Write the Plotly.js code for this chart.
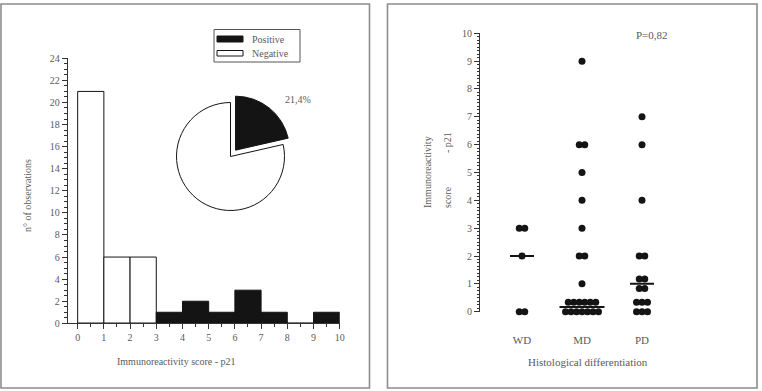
<!DOCTYPE html>
<html>
<head>
<meta charset="utf-8">
<script src="https://cdn.plot.ly/plotly-3.0.1.min.js"></script>
<style>
  html, body { margin: 0; padding: 0; background: #fff; }
  #chart { width: 762px; height: 391px; }
</style>
</head>
<body>
<div id="chart"></div>
<script>
// ---- Histogram of p21 immunoreactivity score (bins of width 1) ----
const binStarts      = [0, 1, 2, 3, 4, 5, 6, 7, 8, 9];
const negativeCounts = [21, 6, 6, 0, 0, 0, 0, 0, 0, 0];
const positiveCounts = [0, 0, 0, 1, 2, 1, 3, 1, 0, 1];
const pieLabels      = ['Positive', 'Negative'];
const histTicks      = [0, 1, 2, 3, 4, 5, 6, 7, 8, 9, 10];

// ---- p21 score by histological differentiation ----
const groups   = ['WD', 'MD', 'PD'];
const wdScores = [3, 3, 2, 0, 0];
const mdScores = [9, 6, 6, 5, 4, 3, 2, 2, 1, 0, 0, 0, 0, 0, 0, 0, 0, 0, 0, 0, 0, 0];
const pdScores = [7, 6, 4, 2, 2, 1, 1, 1, 1, 0, 0, 0, 0, 0, 0];
const pValueText = 'P=0,82';

// ---- page geometry helpers (figure has zero margins, so paper == page) ----
const W = 762, H = 391;
const px = x => x / W;
const py = y => 1 - y / H;

const FONT = 'Liberation Serif, DejaVu Serif, serif';
const TXT = '#5a5a5a';
const INK = '#141414';
const AXIS = '#333';

// Dot-plot axes
const x2Dom = [480, 700], x2Range = [0.3, 0.3 + (700 - 480) / 60];
const y2Dom = [311.7, 33.3], y2Range = [0, 10];
const pxPerX2 = (x2Dom[1] - x2Dom[0]) / (x2Range[1] - x2Range[0]);
const pxPerY2 = (y2Dom[0] - y2Dom[1]) / (y2Range[1] - y2Range[0]);

const dotSize = 7;          // marker diameter, px
const colGapPx = 5.5;       // horizontal spacing of tied dots, px
const rowGapPx = 9.5;       // vertical spacing of stacked rows, px
const rowCap = { WD: 4, MD: 7, PD: 3 };

// Arrange tied scores side by side (and in rows when crowded)
function swarm(scores, catX, cap) {
  const colU = colGapPx / pxPerX2, rowU = rowGapPx / pxPerY2;
  const counts = new Map();
  scores.forEach(v => counts.set(v, (counts.get(v) || 0) + 1));
  const xs = [], ys = [], clusters = new Map();
  for (const [v, n] of counts) {
    const nRows = Math.ceil(n / cap);
    const rows = [];
    let left = n;
    for (let r = 0; r < nRows; r++) { const m = Math.ceil(left / (nRows - r)); rows.push(m); left -= m; }
    const offs = rows.map((_, r) => (r - (nRows - 1) / 2) * rowU);
    const shift = Math.max(0, y2Range[0] - (v + offs[0]));
    rows.forEach((m, r) => {
      for (let i = 0; i < m; i++) {
        xs.push(catX + (i - (m - 1) / 2) * colU);
        ys.push(v + offs[r] + shift);
      }
    });
    clusters.set(v, { center: v + shift, half: ((Math.max(...rows) - 1) / 2) * colU });
  }
  return { xs, ys, clusters };
}

function median(arr) {
  const s = [...arr].sort((a, b) => a - b), n = s.length;
  return n % 2 ? s[(n - 1) / 2] : (s[n / 2 - 1] + s[n / 2]) / 2;
}

const traces = [];

// Histogram bars
const centers = binStarts.map(b => b + 0.5);
traces.push({
  type: 'bar', x: centers, y: negativeCounts, width: 1,
  marker: { color: '#ffffff', line: { color: INK, width: 1 } },
  xaxis: 'x', yaxis: 'y', showlegend: false, hoverinfo: 'skip'
});
traces.push({
  type: 'bar', x: centers, y: positiveCounts, width: 1,
  marker: { color: INK, line: { color: INK, width: 1 } },
  xaxis: 'x', yaxis: 'y', showlegend: false, hoverinfo: 'skip'
});

// Inset pie: share of positive cases
const posTotal = positiveCounts.reduce((a, b) => a + b, 0);
const negTotal = negativeCounts.reduce((a, b) => a + b, 0);
const pieR = 54, piePull = 0.15, pieC = [230.5, 156.5];
const pieHalf = pieR * (1 + piePull);
traces.push({
  type: 'pie', values: [posTotal, negTotal], labels: pieLabels,
  sort: false, direction: 'clockwise', rotation: 0, pull: [piePull, 0],
  marker: { colors: [INK, '#ffffff'], line: { color: INK, width: 1 } },
  textinfo: 'none', hoverinfo: 'skip', showlegend: false,
  domain: { x: [px(pieC[0] - pieHalf), px(pieC[0] + pieHalf)],
            y: [py(pieC[1] + pieHalf), py(pieC[1] - pieHalf)] }
});
const pctText = (100 * posTotal / (posTotal + negTotal)).toFixed(1).replace('.', ',') + '%';

// Dot plot with median lines
const groupScores = [wdScores, mdScores, pdScores];
groupScores.forEach((scores, gi) => {
  const catX = gi + 1;
  const sw = swarm(scores, catX, rowCap[groups[gi]]);
  traces.push({
    type: 'scatter', mode: 'markers', x: sw.xs, y: sw.ys,
    marker: { size: dotSize, color: INK, line: { width: 0 } },
    xaxis: 'x2', yaxis: 'y2', cliponaxis: false, showlegend: false, hoverinfo: 'skip'
  });
  const med = median(scores);
  const cl = sw.clusters.get(med);
  const yLine = cl ? cl.center : med;
  const halfU = Math.max((cl ? cl.half : 0) + (dotSize / 2 + 2.5) / pxPerX2, 12 / pxPerX2);
  traces.push({
    type: 'scatter', mode: 'lines', x: [catX - halfU, catX + halfU], y: [yLine, yLine],
    line: { color: INK, width: 2 },
    xaxis: 'x2', yaxis: 'y2', cliponaxis: false, showlegend: false, hoverinfo: 'skip'
  });
});

const tickFont = { family: FONT, size: 10, color: TXT };

const ann = (x, y, text, extra) => Object.assign({
  xref: 'paper', yref: 'paper', x: px(x), y: py(y), text: text, showarrow: false,
  xanchor: 'center', yanchor: 'middle',
  font: { family: FONT, size: 10, color: TXT }
}, extra || {});

const layout = {
  width: W, height: H,
  margin: { l: 0, r: 0, t: 0, b: 0 },
  paper_bgcolor: '#fff', plot_bgcolor: 'rgba(0,0,0,0)',
  barmode: 'overlay', bargap: 0,
  xaxis: {
    domain: [px(67.7), px(339.7)], range: [-0.38, 10], anchor: 'y',
    tickvals: histTicks, ticks: 'outside', ticklen: 5, tickcolor: AXIS, tickwidth: 1,
    minor: { dtick: 0.5, tick0: 0, ticks: 'outside', ticklen: 3, tickcolor: AXIS },
    showline: true, linecolor: AXIS, linewidth: 1,
    showgrid: false, zeroline: false, tickfont: tickFont, fixedrange: true
  },
  yaxis: {
    domain: [py(323.3), py(58.3)], range: [0, 24], anchor: 'x',
    dtick: 2, tick0: 0, ticks: 'outside', ticklen: 5, tickcolor: AXIS, tickwidth: 1,
    minor: { dtick: 0.5, tick0: 0, ticks: 'outside', ticklen: 3, tickcolor: AXIS },
    showline: true, linecolor: AXIS, linewidth: 1,
    showgrid: false, zeroline: false, tickfont: tickFont, fixedrange: true
  },
  xaxis2: {
    domain: [px(x2Dom[0]), px(x2Dom[1])], range: x2Range, anchor: 'y2',
    tickvals: [1, 2, 3], ticktext: groups, ticks: '', showline: false,
    ticklabelstandoff: 20,
    showgrid: false, zeroline: false, tickfont: { family: FONT, size: 11, color: TXT }, fixedrange: true
  },
  yaxis2: {
    domain: [py(y2Dom[0]), py(y2Dom[1])], range: y2Range, anchor: 'x2',
    dtick: 1, tick0: 0, ticks: 'outside', ticklen: 5, tickcolor: AXIS, tickwidth: 1,
    minor: { dtick: 0.125, tick0: 0, ticks: 'outside', ticklen: 2.5, tickcolor: AXIS },
    showline: true, linecolor: AXIS, linewidth: 1,
    showgrid: false, zeroline: false, tickfont: tickFont, fixedrange: true
  },
  shapes: [
    // panel frames
    { type: 'rect', xref: 'paper', yref: 'paper', x0: px(1), x1: px(369.5), y0: py(388), y1: py(4),
      line: { color: '#8c8c8c', width: 1.6 } },
    { type: 'rect', xref: 'paper', yref: 'paper', x0: px(387.5), x1: px(757), y0: py(388), y1: py(4),
      line: { color: '#8c8c8c', width: 1.6 } },
    // legend box and swatches
    { type: 'rect', xref: 'paper', yref: 'paper', x0: px(214), x1: px(300), y0: py(62), y1: py(29.5),
      line: { color: '#555', width: 1 } },
    { type: 'rect', xref: 'paper', yref: 'paper', x0: px(217), x1: px(243), y0: py(42), y1: py(36),
      fillcolor: INK, line: { color: INK, width: 1 } },
    { type: 'rect', xref: 'paper', yref: 'paper', x0: px(217), x1: px(243), y0: py(56), y1: py(50.5),
      fillcolor: '#fff', line: { color: INK, width: 1 } }
  ],
  annotations: [
    ann(250, 39.5, pieLabels[0], { xanchor: 'left' }),
    ann(250, 53.5, pieLabels[1], { xanchor: 'left' }),
    ann(298, 100, pctText),
    ann(176, 361, 'Immunoreactivity score - p21'),
    ann(27, 196, 'n° of observations', { textangle: -90 }),
    ann(652, 35, pValueText, { font: { family: FONT, size: 11, color: TXT } }),
    ann(588, 362, 'Histological differentiation', { font: { family: FONT, size: 11, color: TXT } }),
    ann(427, 172, 'Immunoreactivity', { textangle: -90 }),
    ann(447, 197, 'score', { textangle: -90 }),
    ann(447, 142, '- p21', { textangle: -90 })
  ]
};

Plotly.newPlot('chart', traces, layout, { staticPlot: true, displayModeBar: false });
</script>
</body>
</html>
